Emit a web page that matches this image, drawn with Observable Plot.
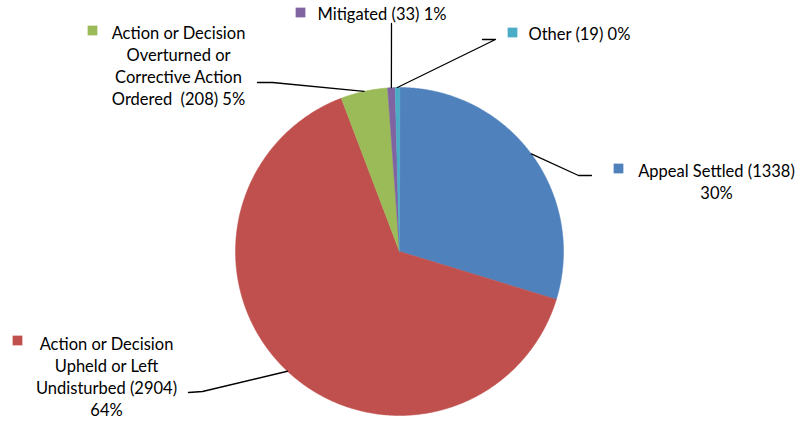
<!DOCTYPE html>
<html>
<head>
<meta charset="utf-8">
<script src="https://cdn.jsdelivr.net/npm/d3@7"></script>
<script src="https://cdn.jsdelivr.net/npm/@observablehq/plot@0.6"></script>
<style>
  html, body { margin: 0; padding: 0; background: #fff; }
  #chart { width: 802px; height: 421px; }
</style>
</head>
<body>
<div id="chart"></div>
<script>
// ---- data ----
const categories = [
  "Appeal Settled",
  "Action or Decision Upheld or Left Undisturbed",
  "Action or Decision Overturned or Corrective Action Ordered",
  "Mitigated",
  "Other"
];
const counts = [1338, 2904, 208, 33, 19];
const percentLabels = ["30%", "64%", "5%", "1%", "0%"];
const labelTexts = [
  "Appeal Settled (1338)\n30%",
  "Action or Decision\nUpheld or Left\nUndisturbed (2904)\n64%",
  "Action or Decision\nOverturned or\nCorrective Action\nOrdered  (208) 5%",
  "Mitigated (33) 1%",
  "Other (19) 0%"
];
const colors = ["#4F81BD", "#C0504D", "#9BBB59", "#8064A2", "#4BACC6"];

// ---- layout (pixels) ----
const W = 802, H = 421;
const CX = 399, CY = 251, R = 164;
const toX = px => (px - CX) / R;
const toY = py => (CY - py) / R;
// label layout: text block centre, text-anchor, square position, leader elbow & end
const layout = [
  {tx: 716, ty: 180, anchor: "middle", sq: [618, 168], elbow: [578, 175], end: [591, 175]},
  {tx: 106, ty: 375, anchor: "middle", sq: [17, 340], elbow: [202, 391], end: [188, 392]},
  {tx: 178, ty: 64, anchor: "middle", sq: [92, 30], elbow: [272, 82], end: [257, 82]},
  {tx: 317, ty: 14, anchor: "start", sq: [300, 12], elbow: [391, 23], end: [391, 23]},
  {tx: 528, ty: 34, anchor: "start", sq: [512, 32], elbow: [495, 39], end: [482, 39]}
];

// ---- geometry from data ----
const pie = d3.pie().sort(null).value(d => d)(counts);
const slicePts = [];
pie.forEach((a, i) => {
  const name = categories[i];
  slicePts.push({name, x: 0, y: 0});
  const n = Math.max(2, Math.ceil((a.endAngle - a.startAngle) / (Math.PI / 360)));
  for (let k = 0; k <= n; k++) {
    const t = a.startAngle + (a.endAngle - a.startAngle) * k / n;
    slicePts.push({name, x: Math.sin(t), y: Math.cos(t)});
  }
});

const leaderPts = [];
const labels = [];
const squares = [];
pie.forEach((a, i) => {
  const mid = (a.startAngle + a.endAngle) / 2;
  const L = layout[i];
  leaderPts.push({k: i, x: Math.sin(mid), y: Math.cos(mid)});
  leaderPts.push({k: i, x: toX(L.elbow[0]), y: toY(L.elbow[1])});
  leaderPts.push({k: i, x: toX(L.end[0]), y: toY(L.end[1])});
  labels.push({text: labelTexts[i], x: toX(L.tx), y: toY(L.ty), anchor: L.anchor});
  squares.push({name: categories[i], x: toX(L.sq[0]), y: toY(L.sq[1])});
});

const font = "Lato, 'Open Sans', sans-serif";
const FS = 16.5;

const chart = Plot.plot({
  width: W,
  height: H,
  margin: 0,
  x: {domain: [-1, 1], range: [CX - R, CX + R], axis: null},
  y: {domain: [-1, 1], range: [CY + R, CY - R], axis: null},
  color: {domain: categories, range: colors},
  style: {background: "#fff", fontFamily: font},
  marks: [
    Plot.line(slicePts, {x: "x", y: "y", z: "name", fill: "name", stroke: "name", strokeWidth: 0.5, curve: "linear-closed"}),
    Plot.line(leaderPts, {x: "x", y: "y", z: "k", stroke: "#000", strokeWidth: 1.3}),
    Plot.dot(squares, {x: "x", y: "y", fill: "name", symbol: "square", r: 5.5, stroke: null}),
    Plot.text(labels.filter(d => d.anchor === "middle"), {x: "x", y: "y", text: "text", textAnchor: "middle", lineAnchor: "middle", lineHeight: 22 / FS, fontSize: FS, fill: "#000"}),
    Plot.text(labels.filter(d => d.anchor === "start"), {x: "x", y: "y", text: "text", textAnchor: "start", lineAnchor: "middle", fontSize: FS, fill: "#000"})
  ]
});
document.getElementById("chart").appendChild(chart);
</script>
</body>
</html>
